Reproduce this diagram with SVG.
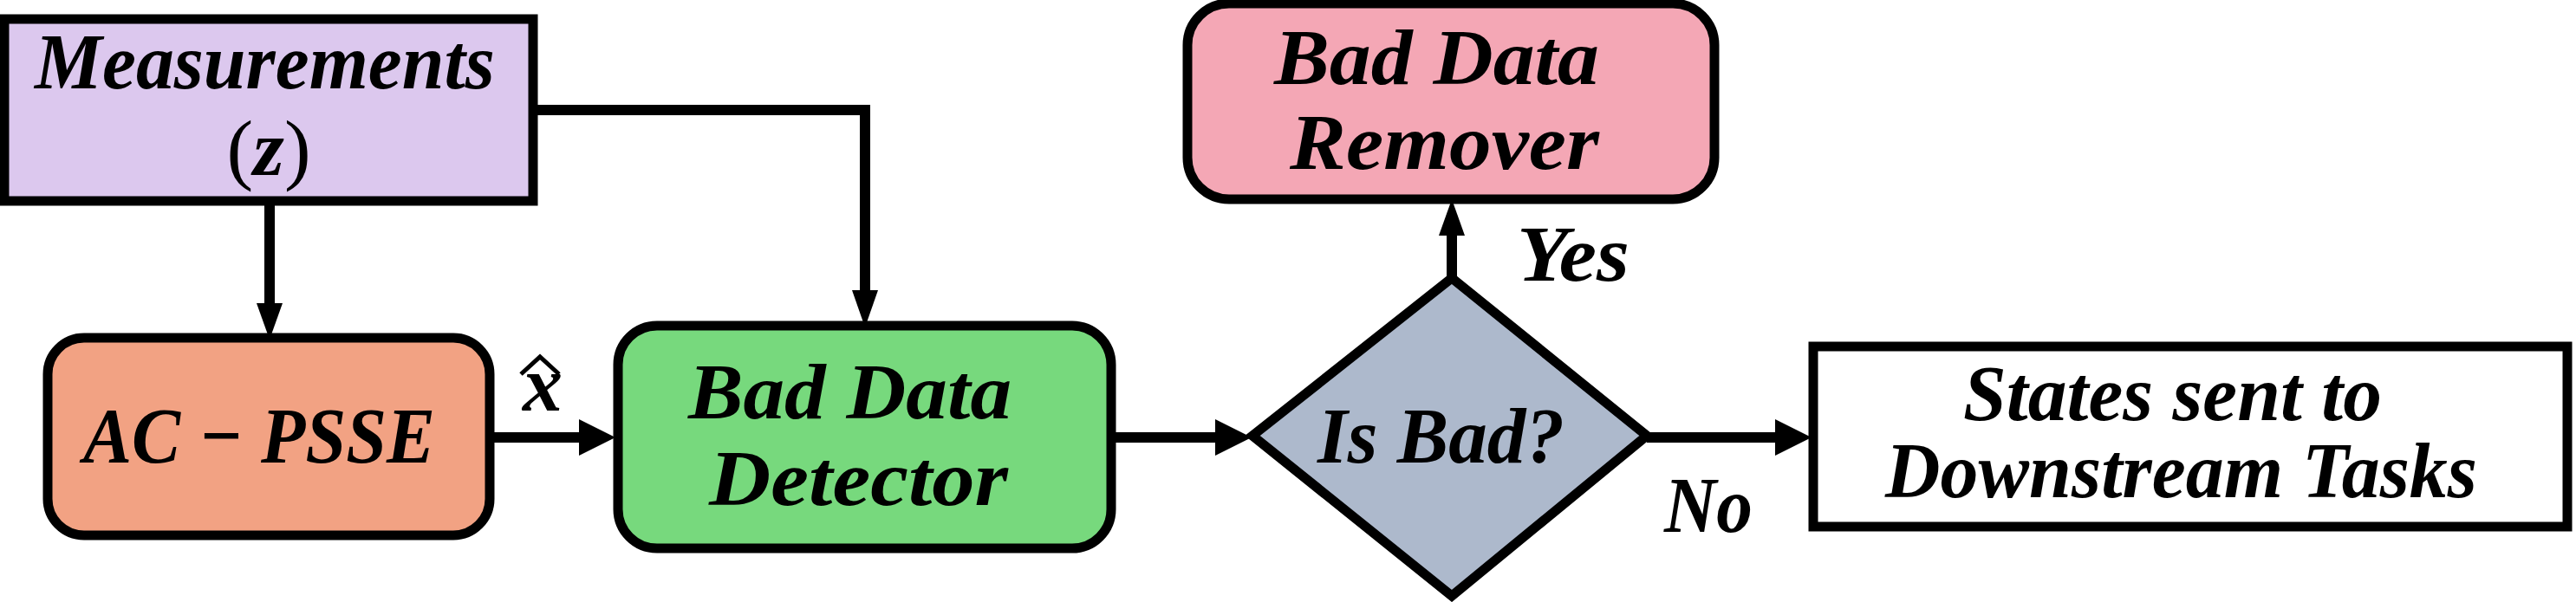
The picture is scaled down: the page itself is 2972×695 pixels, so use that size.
<svg xmlns="http://www.w3.org/2000/svg" width="2972" height="695" viewBox="0 0 2972 695">
<style>
.n{stroke:#000;stroke-width:11}
.t{font-family:"Liberation Serif",serif;font-weight:bold;font-style:italic;font-size:92px;fill:#000}
.c{fill:none;stroke:#000;stroke-width:12}
</style>
<rect width="2972" height="695" fill="#fff"/>
<g id="connectors">
<path class="c" d="M311,232 V352"/><path d="M296,350 L326,350 L311,392 Z"/>
<path class="c" d="M615,127 H998 V337"/><path d="M983,335 L1013,335 L998,378 Z"/>
<path class="c" d="M565,505 H670"/><path d="M668,484 L668,526 L710,505 Z"/>
<path class="c" d="M1282,505 H1405"/><path d="M1402,484 L1402,526 L1444,505 Z"/>
<path class="c" d="M1675,321 V270"/><path d="M1660,272 L1690,272 L1675,230 Z"/>
<path class="c" d="M1900,505 H2050"/><path d="M2048,484 L2048,526 L2090,505 Z"/>
<path d="M601,432 L623,412 L645,432" fill="none" stroke="#000" stroke-width="5"/>
</g>
<g id="measurements">
<rect class="n" x="5" y="22" width="610" height="210" fill="#DCC8EE"/>
<text class="t" x="40" y="102" textLength="531" lengthAdjust="spacingAndGlyphs">Measurements</text>
<text class="t" x="310" y="202" text-anchor="middle" font-size="84" style="font-style:normal;font-weight:normal">(<tspan style="font-style:italic;font-weight:bold">z</tspan>)</text>
</g>
<g id="acpsse">
<rect class="n" x="55" y="390" width="510" height="228" rx="42" fill="#F2A283"/>
<text class="t" x="96" y="534" textLength="406" lengthAdjust="spacingAndGlyphs">AC − PSSE</text>
</g>
<g id="xhat">
<text class="t" x="603" y="474" font-size="70">x</text>
</g>
<g id="detector">
<rect class="n" x="713" y="376" width="569" height="257" rx="45" fill="#77D97D"/>
<text class="t" x="794" y="483" textLength="373" lengthAdjust="spacingAndGlyphs">Bad Data</text>
<text class="t" x="818" y="583" textLength="345" lengthAdjust="spacingAndGlyphs">Detector</text>
</g>
<g id="remover">
<rect class="n" x="1370" y="4" width="608" height="226" rx="48" fill="#F4A7B5"/>
<text class="t" x="1470" y="97" textLength="375" lengthAdjust="spacingAndGlyphs">Bad Data</text>
<text class="t" x="1488" y="195" textLength="357" lengthAdjust="spacingAndGlyphs">Remover</text>
</g>
<g id="isbad">
<polygon class="n" points="1445,503 1675,321 1900,503 1675,688" fill="#ADB9CC"/>
<text class="t" x="1520" y="534" textLength="285" lengthAdjust="spacingAndGlyphs">Is Bad?</text>
</g>
<g id="labels">
<text class="t" x="1750" y="324" textLength="130" lengthAdjust="spacingAndGlyphs">Yes</text>
<text class="t" x="1920" y="614" textLength="102" lengthAdjust="spacingAndGlyphs">No</text>
</g>
<g id="states">
<rect class="n" x="2092" y="400" width="870" height="208" fill="#fff"/>
<text class="t" x="2265" y="485" textLength="483" lengthAdjust="spacingAndGlyphs">States sent to</text>
<text class="t" x="2175" y="574" textLength="683" lengthAdjust="spacingAndGlyphs">Downstream Tasks</text>
</g>
</svg>
